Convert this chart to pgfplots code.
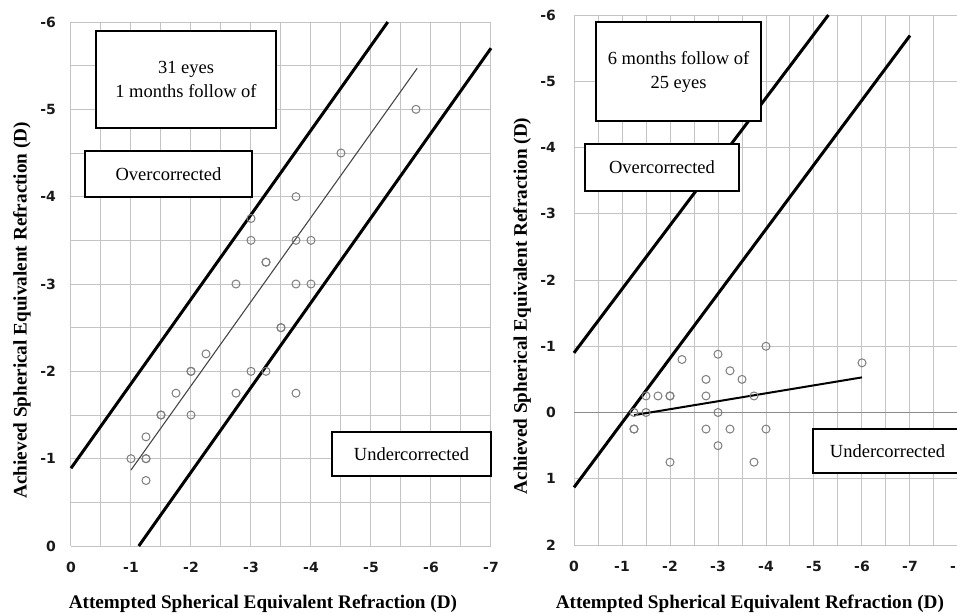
\documentclass[border=0pt]{standalone}
\usepackage{pgfplots}
\pgfplotsset{compat=1.18}
\usepackage{fontspec}
\setmainfont{Liberation Serif}
\newfontfamily\tickfont{DejaVu Sans}
\definecolor{gridc}{RGB}{196,196,196}
\definecolor{mk}{RGB}{125,125,125}
\definecolor{reg}{RGB}{70,70,70}
\pgfplotsset{
  refstyle/.style={
    scale only axis,
    axis line style={draw=none},
    major tick length=0pt, minor tick length=0pt,
    x dir=reverse, y dir=reverse,
    grid=both,
    major grid style={gridc, line width=0.5pt},
    minor grid style={gridc, line width=0.5pt},
    tick label style={font=\tickfont\bfseries\fontsize{7}{8.5}\selectfont, text=black!90},
    label style={font=\bfseries\fontsize{9.6}{11}\selectfont},
    clip=false,
  }
}
\begin{document}
\begin{tikzpicture}[x=0.5pt,y=0.5pt]
\path[use as bounding box] (0,0) rectangle (957,614);
\clip (0,0) rectangle (957,614);
% ---------------- left panel ----------------
\begin{axis}[refstyle,
  at={(35.5pt,34pt)}, anchor=south west,
  width=210pt, height=262pt,
  xmin=-7, xmax=0, ymin=-6, ymax=0,
  xtick={0,-1,-2,-3,-4,-5,-6,-7},
  xticklabels={0,-1,-2,-3,-4,-5,-6,-7},
  minor xtick={-0.5,-1.5,-2.5,-3.5,-4.5,-5.5,-6.5},
  ytick={0,-1,-2,-3,-4,-5,-6},
  yticklabels={0,-1,-2,-3,-4,-5,-6},
  minor ytick={-0.5,-1.5,-2.5,-3.5,-4.5,-5.5},
  xticklabel style={yshift=-4.5pt},
  yticklabel style={xshift=-4pt},
  xlabel={Attempted Spherical Equivalent Refraction (D)},
  ylabel={Achieved Spherical Equivalent Refraction (D)},
  xlabel style={at={(axis description cs:0.457,-0.111)}, anchor=center},
  ylabel style={at={(axis description cs:-0.117,0.45)}, anchor=center, rotate=0},
]
\addplot[black, line width=1.5pt] coordinates {(0,-0.89) (-5.28,-6)};
\addplot[black, line width=1.5pt] coordinates {(-1.13,0) (-7,-5.7)};
\addplot[reg, line width=0.55pt] coordinates {(-1,-0.87) (-5.77,-5.47)};
\addplot[only marks, mark=o, mark size=2pt, mark options={draw=mk, line width=0.5pt}] coordinates {
(-5.75,-5) (-4.5,-4.5) (-3.75,-4) (-3,-3.75) (-3,-3.5) (-3.75,-3.5) (-4,-3.5)
(-3.25,-3.25) (-3.25,-3.25) (-2.75,-3) (-3.75,-3) (-4,-3) (-3.5,-2.5) (-3.5,-2.5)
(-2.25,-2.2) (-2,-2) (-2,-2) (-3,-2) (-3.25,-2) (-1.75,-1.75) (-2.75,-1.75)
(-3.75,-1.75) (-1.5,-1.5) (-1.5,-1.5) (-2,-1.5) (-1.25,-1.25) (-1,-1)
(-1.25,-1) (-1.25,-1) (-1.25,-0.75)};
\end{axis}
% ---------------- right panel ----------------
\begin{axis}[refstyle,
  at={(287pt,34.5pt)}, anchor=south west,
  width=192pt, height=265pt,
  xmin=-8, xmax=0, ymin=-6, ymax=2,
  xtick={0,-1,-2,-3,-4,-5,-6,-7,-8},
  xticklabels={0,-1,-2,-3,-4,-5,-6,-7,-8},
  minor xtick={-0.5,-1.5,-2.5,-3.5,-4.5,-5.5,-6.5,-7.5},
  ytick={2,1,0,-1,-2,-3,-4,-5,-6},
  yticklabels={2,1,0,-1,-2,-3,-4,-5,-6},
  minor ytick={},
  xticklabel style={yshift=-4.5pt},
  yticklabel style={xshift=-5.5pt},
  xlabel={Attempted Spherical Equivalent Refraction (D)},
  ylabel={Achieved Spherical Equivalent Refraction (D)},
  xlabel style={at={(axis description cs:0.458,-0.111)}, anchor=center},
  ylabel style={at={(axis description cs:-0.135,0.451)}, anchor=center, rotate=0},
]
\addplot[black!45, line width=0.8pt] coordinates {(0,0) (-8,0)};
\addplot[black, line width=1.5pt] coordinates {(0,-0.9) (-5.3,-6)};
\addplot[black, line width=1.5pt] coordinates {(0,1.13) (-7,-5.69)};
\addplot[black, line width=1pt] coordinates {(-1.25,0.04) (-6,-0.53)};
\addplot[only marks, mark=o, mark size=2pt, mark options={draw=mk, line width=0.5pt}] coordinates {
(-4,-1) (-3,-0.88) (-2.25,-0.8) (-3.25,-0.63) (-2.75,-0.5) (-3.5,-0.5) (-6,-0.75)
(-1.5,-0.25) (-1.75,-0.25) (-2,-0.25) (-2,-0.25) (-2.75,-0.25) (-3.75,-0.25)
(-1.25,0) (-1.5,0) (-3,0) (-1.25,0.25) (-1.25,0.25) (-2.75,0.25) (-3.25,0.25)
(-4,0.25) (-3,0.5) (-2,0.75) (-3.75,0.75)};
\end{axis}
% ---------------- text boxes ----------------
\tikzset{bx/.style={draw=black, line width=0.7pt, fill=white, inner sep=0pt,
  align=center, font=\fontsize{9.25}{12}\selectfont}}
\node[bx, minimum width=90pt, minimum height=48.5pt] at (186,534.5) {31 eyes\\1 months follow of};
\node[bx, minimum width=83.5pt, minimum height=23pt] at (168.5,440) {Overcorrected};
\node[bx, minimum width=79.5pt, minimum height=22pt] at (411.5,160) {Undercorrected};
\node[bx, minimum width=82.5pt, minimum height=49.5pt] at (678.5,542.5) {6 months follow of\\25 eyes};
\node[bx, minimum width=77pt, minimum height=23.5pt] at (662,446.5) {Overcorrected};
\node[bx, minimum width=74.5pt, minimum height=22pt] at (887.5,163) {Undercorrected};
\end{tikzpicture}
\end{document}
